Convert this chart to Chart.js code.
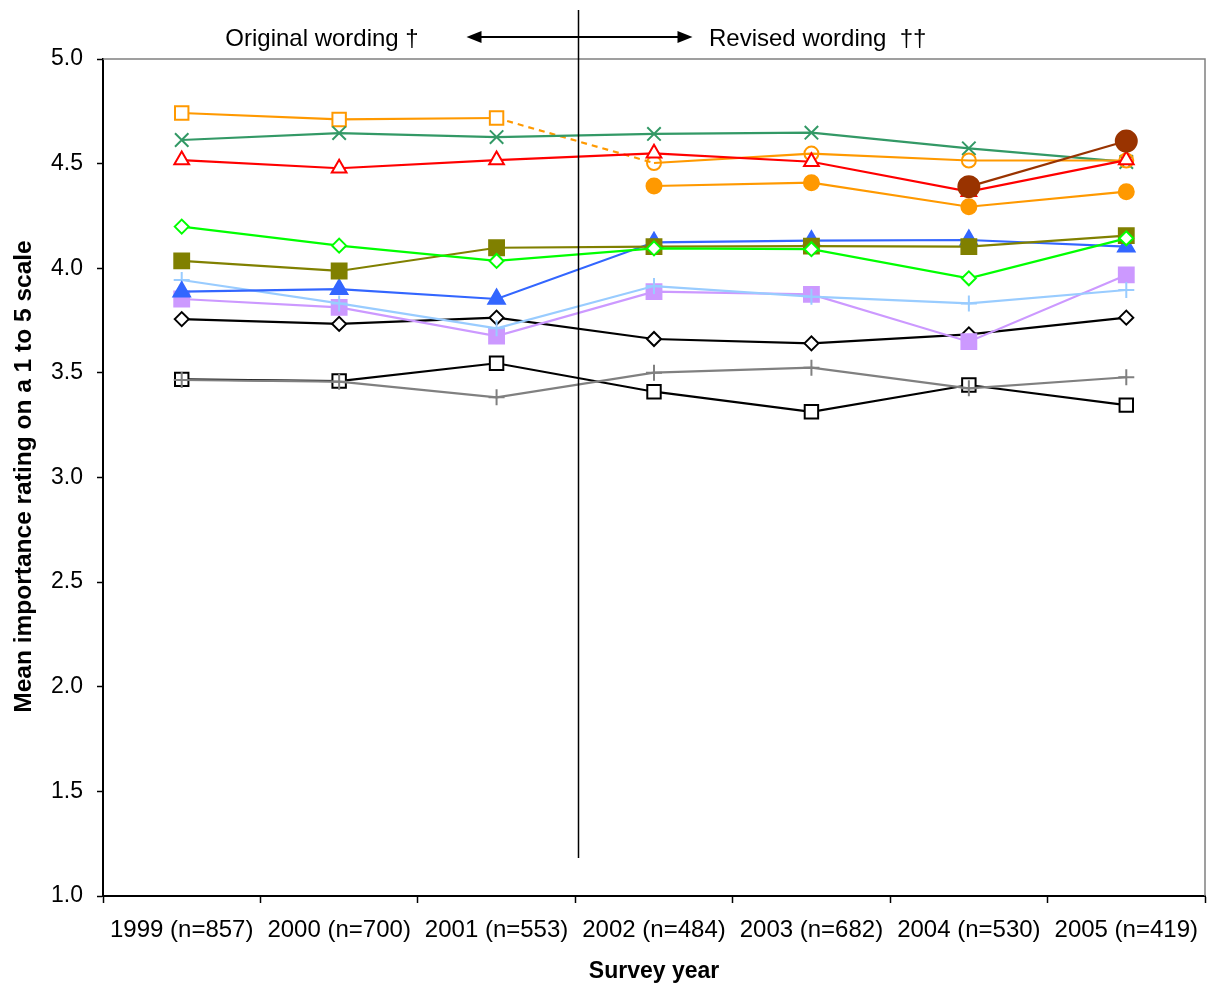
<!DOCTYPE html>
<html>
<head>
<meta charset="utf-8">
<script src="https://cdn.jsdelivr.net/npm/chart.js@4/dist/chart.umd.min.js"></script>
<style>
  html, body { margin: 0; padding: 0; background: #fff; }
  canvas { display: block; }
</style>
</head>
<body>
<canvas id="chart" width="1209" height="987"></canvas>
<script>
// Survey years (category axis)
const years = ['1999 (n=857)', '2000 (n=700)', '2001 (n=553)', '2002 (n=484)',
               '2003 (n=682)', '2004 (n=530)', '2005 (n=419)'];

// Mean importance ratings per item, one array per plotted series
const seagreenX      = [4.613, 4.646, 4.627, 4.642, 4.648, 4.573, 4.508];
const orangeOpenSq   = [4.742, 4.711, 4.718, null, null, null, null];
const orangeOpenCirc = [null, null, null, 4.503, 4.548, 4.515, 4.515];
const redTriangle    = [4.517, 4.478, 4.517, 4.549, 4.509, 4.366, 4.517];
const orangeDot      = [null, null, null, 4.393, 4.409, 4.294, 4.366];
const brownDot       = [null, null, null, null, null, 4.390, 4.608];
const greenDiamond   = [4.199, 4.108, 4.035, 4.095, 4.091, 3.952, 4.143];
const oliveSquare    = [4.035, 3.987, 4.098, 4.103, 4.106, 4.103, 4.156];
const blueTriangle   = [3.888, 3.900, 3.853, 4.124, 4.132, 4.135, 4.103];
const lightBluePlus  = [3.944, 3.832, 3.713, 3.915, 3.864, 3.832, 3.896];
const lavenderSquare = [3.853, 3.813, 3.676, 3.888, 3.875, 3.649, 3.968];
const blackDiamond   = [3.757, 3.734, 3.764, 3.662, 3.641, 3.684, 3.764];
const grayPlus       = [3.466, 3.458, 3.383, 3.501, 3.525, 3.426, 3.479];
const blackSquare    = [3.469, 3.461, 3.546, 3.410, 3.314, 3.442, 3.346];

// Y axis range and tick step
const yMin = 1.0, yMax = 5.0, yStep = 0.5;

// Dashed link between the last original-wording point and the first revised-wording point
const wordingLink = years.map((_, i) =>
  i === 2 ? orangeOpenSq[2] : (i === 3 ? orangeOpenCirc[3] : null));

const FONT = "'Liberation Sans', Arial, sans-serif";

function series(data, color, style, radius, filled, extra) {
  return Object.assign({
    data: data,
    borderColor: color,
    borderWidth: 2.2,
    pointStyle: style,
    pointRadius: radius,
    pointHoverRadius: radius,
    pointBorderColor: color,
    pointBackgroundColor: filled ? color : '#ffffff',
    pointBorderWidth: 2,
    tension: 0,
    spanGaps: false,
    fill: false
  }, extra || {});
}

// earlier entries are painted on top
const datasets = [
  series(brownDot,       '#993300', 'circle',    10.5, true),
  series(redTriangle,    '#FF0000', 'triangle',  8.5, false),
  series(orangeOpenCirc, '#FF9900', 'circle',    7,   false, { pointBackgroundColor: 'rgba(255,255,255,0)' }),
  series(seagreenX,      '#339966', 'crossRot',  9.5, false),
  series(orangeOpenSq,   '#FF9900', 'rect',      9.5, false),
  series(wordingLink,    '#FF9900', false,       0,   false, { borderDash: [6, 5], pointRadius: 0, pointHoverRadius: 0 }),
  series(orangeDot,      '#FF9900', 'circle',    7.5, true),
  series(greenDiamond,   '#00FF00', 'rectRot',   7,   false),
  series(oliveSquare,    '#808000', 'rect',      10.5, true),
  series(blueTriangle,   '#3366FF', 'triangle',  9.5, true),
  series(lightBluePlus,  '#99CCFF', 'cross',     8,   false),
  series(lavenderSquare, '#CC99FF', 'rect',      10.5, true),
  series(blackDiamond,   '#000000', 'rectRot',   7,   false),
  series(grayPlus,       '#808080', 'cross',     8,   false),
  series(blackSquare,    '#000000', 'rect',      9.5, false)
];

// Plot frame, wording divider, arrow, and axis titles
const decorations = {
  id: 'decorations',
  beforeDatasetsDraw(chart) {
    const { ctx, chartArea: a } = chart;
    ctx.save();
    ctx.strokeStyle = '#808080';
    ctx.lineWidth = 1.5;
    ctx.beginPath();
    ctx.moveTo(a.left, a.top);
    ctx.lineTo(a.right, a.top);
    ctx.lineTo(a.right, a.bottom);
    ctx.stroke();
    ctx.restore();
  },
  afterDraw(chart) {
    const { ctx, chartArea: a, scales } = chart;
    const x = scales.x;
    const divX = Math.round((x.getPixelForValue(2) + x.getPixelForValue(3)) / 2) + 3.5;
    ctx.save();

    // divider between original and revised wording
    ctx.strokeStyle = '#000';
    ctx.lineWidth = 1.5;
    ctx.beginPath();
    ctx.moveTo(divX, 10);
    ctx.lineTo(divX, 858);
    ctx.stroke();

    // double-headed arrow
    const ay = 37, ax0 = divX - 112, ax1 = divX + 114;
    ctx.lineWidth = 2;
    ctx.beginPath();
    ctx.moveTo(ax0 + 10, ay);
    ctx.lineTo(ax1 - 10, ay);
    ctx.stroke();
    ctx.fillStyle = '#000';
    ctx.beginPath();
    ctx.moveTo(ax0, ay);
    ctx.lineTo(ax0 + 15, ay - 6);
    ctx.lineTo(ax0 + 15, ay + 6);
    ctx.closePath();
    ctx.fill();
    ctx.beginPath();
    ctx.moveTo(ax1, ay);
    ctx.lineTo(ax1 - 15, ay - 6);
    ctx.lineTo(ax1 - 15, ay + 6);
    ctx.closePath();
    ctx.fill();

    // wording labels
    ctx.font = '24px ' + FONT;
    ctx.textBaseline = 'middle';
    ctx.textAlign = 'center';
    ctx.fillText('Original wording \u2020', 322, 39);
    ctx.textAlign = 'left';
    ctx.fillText('Revised wording  \u2020\u2020', 709, 39);

    // axis titles
    ctx.font = 'bold 23px ' + FONT;
    ctx.textAlign = 'center';
    ctx.fillText('Survey year', (a.left + a.right) / 2, 972);
    ctx.font = 'bold 24.5px ' + FONT;
    ctx.translate(24, (a.top + a.bottom) / 2 - 1);
    ctx.rotate(-Math.PI / 2);
    ctx.fillText('Mean importance rating on a 1 to 5 scale', 0, 0);
    ctx.restore();
  }
};

new Chart(document.getElementById('chart'), {
  type: 'line',
  data: { labels: years, datasets: datasets },
  options: {
    responsive: false,
    animation: false,
    devicePixelRatio: 1,
    layout: { autoPadding: false, padding: { top: 59, right: 4, left: 0, bottom: 0 } },
    plugins: {
      legend: { display: false },
      tooltip: { enabled: false },
      title: { display: false }
    },
    scales: {
      x: {
        type: 'category',
        offset: true,
        grid: {
          offset: true,
          drawOnChartArea: false,
          drawTicks: true,
          tickLength: 7,
          tickColor: '#000',
          tickWidth: 1.5
        },
        border: { display: true, color: '#000', width: 2 },
        ticks: {
          color: '#000',
          font: { family: FONT, size: 24 },
          padding: 13,
          maxRotation: 0,
          autoSkip: false
        },
        afterFit(scale) {
          scale.height = 91;
          scale.paddingLeft = 0;
          scale.paddingRight = 0;
        }
      },
      y: {
        min: yMin,
        max: yMax,
        grid: {
          drawOnChartArea: false,
          drawTicks: true,
          tickLength: 6,
          tickColor: '#000',
          tickWidth: 1.5
        },
        border: { display: true, color: '#000', width: 2 },
        ticks: {
          stepSize: yStep,
          color: '#000',
          font: { family: FONT, size: 23 },
          padding: 14,
          callback: v => Number(v).toFixed(1)
        },
        afterFit(scale) { scale.width = 103; }
      }
    }
  },
  plugins: [decorations]
});
</script>
</body>
</html>
